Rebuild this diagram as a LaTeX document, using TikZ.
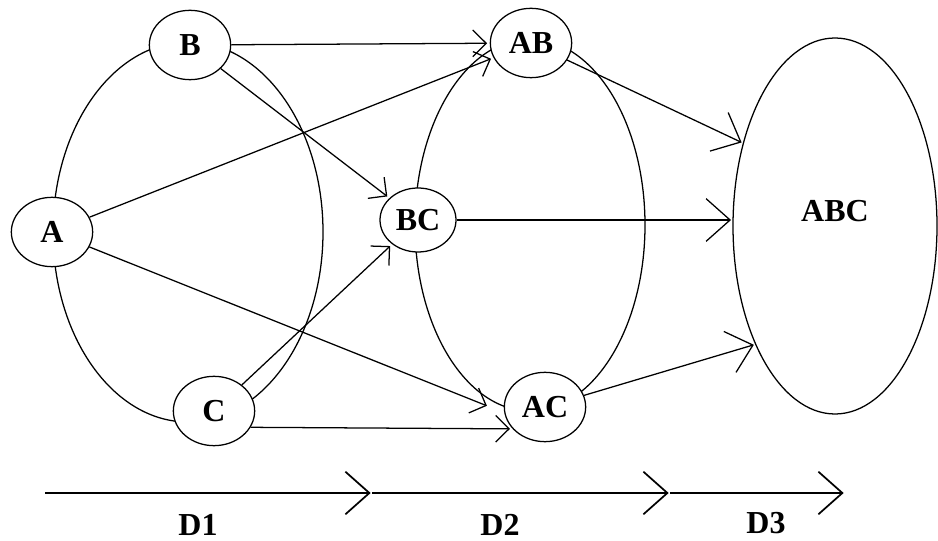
\documentclass[tikz,border=0pt]{standalone}
\usepackage{fontspec}
\setmainfont{Liberation Serif}
\usetikzlibrary{shapes.geometric,arrows.meta}

\begin{document}
\begin{tikzpicture}[x=0.75pt,y=-0.75pt,line width=0.95pt]
  \useasboundingbox (0,0) rectangle (938,541);

  \tikzset{subset/.style={ellipse,draw,fill=white,inner sep=0pt,
      minimum width=61pt,minimum height=52pt,
      font=\fontsize{24}{28}\selectfont\bfseries},
    lbl/.style={font=\fontsize{24}{28}\selectfont\bfseries},
    arr/.style={-{Straight Barb[length=10pt,width=20pt]},shorten >=2pt},
    bigarr/.style={-{Straight Barb[length=18pt,width=32pt]},shorten >=1pt}}

  \draw (188,232) ellipse [x radius=101.25pt, y radius=142.5pt];
  \draw (530,225) ellipse [x radius=86.25pt, y radius=139.5pt];

  \node[subset] (B) at (190,45) {B};
  \node[subset] (A) at (52,232) {A};
  \node[subset] (C) at (214,411) {C};
  \node[subset] (AB) at (531,43) {AB};
  \node[subset, minimum width=57pt, minimum height=48pt] (BC) at (418,220) {BC};
  \node[subset] (AC) at (545,407) {AC};
  \node[subset, minimum width=153pt, minimum height=282pt] (ABC) at (835,226)
    {\raisebox{11pt}[\height][\depth]{ABC}};

  \draw[arr] (B) -- (AB);
  \draw[arr] (B) -- (BC);
  \draw[arr] (A) -- (AB);
  \draw[arr, shorten >=14pt] (A) -- (AC.188);
  \draw[arr] (C) -- (BC);
  \draw[arr] (C.-24) -- (AC.214);
  \draw[bigarr] (AB) -- (ABC.138);
  \draw[bigarr] (BC) -- (BC -| ABC.west);
  \draw[bigarr] (AC) -- (ABC.236);

  \coordinate (t0) at (45,493);
  \coordinate (t1) at (372,493);
  \coordinate (t2) at (670,493);
  \coordinate (t3) at (845,493);
  \draw[bigarr, line width=1.3pt] (t0) -- (t1);
  \draw[bigarr, line width=1.3pt] (t1) -- (t2);
  \draw[bigarr, line width=1.3pt] (t2) -- (t3);

  \node[lbl] (d1) at (198,525) {D1};
  \node[lbl] (d2) at (500,525) {D2};
  \node[lbl] (d3) at (766,523) {D3};
\end{tikzpicture}
\end{document}
